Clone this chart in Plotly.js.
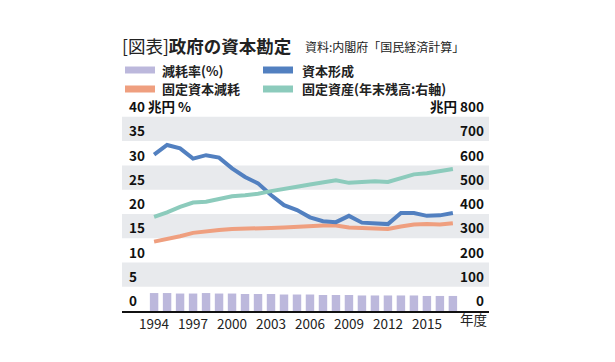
<!DOCTYPE html>
<html>
<head>
<meta charset="utf-8">
<script src="https://cdn.plot.ly/plotly-3.0.1.min.js"></script>
<style>html,body{margin:0;padding:0;background:#fff;}#chart{width:615px;height:362px;}</style>
</head>
<body>
<div id="chart"></div>
<script>
const years = [1994,1995,1996,1997,1998,1999,2000,2001,2002,2003,2004,2005,2006,2007,2008,2009,2010,2011,2012,2013,2014,2015,2016,2017];
const depreciationRate = [3.7,3.7,3.6,3.6,3.7,3.6,3.6,3.5,3.5,3.5,3.4,3.4,3.4,3.3,3.3,3.3,3.2,3.2,3.2,3.2,3.2,3.1,3.1,3.1];
const capitalFormation = [32.2,34.2,33.5,31.4,32.1,31.6,29.4,27.6,26.3,23.9,21.8,20.8,19.3,18.5,18.3,19.6,18.2,18.0,17.9,20.2,20.2,19.6,19.7,20.2];
const capitalConsumption = [14.3,14.8,15.4,16.1,16.5,16.7,16.9,16.9,16.9,17.1,17.2,17.4,17.4,17.6,17.6,17.2,17.1,17.1,16.9,17.4,17.8,17.9,17.8,18.1];
const fixedAssets = [388,406,429,447,450,461,473,477,483,494,505,512,521,532,539,528,532,535,532,546,563,568,575,585];
const xTickVals = [1994,1997,2000,2003,2006,2009,2012,2015];
const xTickText = ['1994','1997','2000','2003','2006','2009','2012','2015'];
const yLeftVals = [0,5,10,15,20,25,30,35,40];
const yLeftText = ['0','5','10','15','20','25','30','35','40'];
const yRightVals = [0,100,200,300,400,500,600,700,800];
const yRightText = ['0','100','200','300','400','500','600','700','800'];
const yLeftUnit = '兆円 %';
const yRightUnit = '兆円';
const xUnit = '年度';
const bandRanges = [[5,10],[15,20],[25,30],[35,40]];
const seriesNames = ['減耗率(%)','資本形成','固定資本減耗','固定資産(年末残高:右軸)'];

const colors = {rate:'#bcb8dc', formation:'#5280c0', consumption:'#ef9f7f', assets:'#8ccbbc', band:'#e8eaed'};
const JP = '"Noto Sans CJK JP", "Noto Sans", sans-serif';

// plot area: x 122..489, y 0 at 311, ~4.858 px per unit
const W = 615, H = 362, L = 122, R = 126, B = 51;
const yTop = 48;
const pxPerUnit = 4.858;
const T = Math.round(H - B - yTop * pxPerUnit);
const pw = W - L - R, ph = H - T - B;
const px = x => (x - L) / pw;
const py = y => (H - B - y) / ph;

const traces = [
  {type:'bar', x:years, y:depreciationRate, name:seriesNames[0], marker:{color:colors.rate}, yaxis:'y', showlegend:false},
  {type:'scatter', mode:'lines', x:years, y:capitalConsumption, name:seriesNames[2], line:{color:colors.consumption, width:4}, yaxis:'y', showlegend:false},
  {type:'scatter', mode:'lines', x:years, y:capitalFormation, name:seriesNames[1], line:{color:colors.formation, width:4}, yaxis:'y', showlegend:false},
  {type:'scatter', mode:'lines', x:years, y:fixedAssets, name:seriesNames[3], line:{color:colors.assets, width:4}, yaxis:'y2', showlegend:false}
];

const shapes = bandRanges.map(r => ({type:'rect', xref:'paper', yref:'y', x0:0, x1:1, y0:r[0], y1:r[1], fillcolor:colors.band, line:{width:0}, layer:'below'}));
const legendItems = [
  {c:colors.rate, sx:125, tx:160, y:70, t:seriesNames[0]},
  {c:colors.formation, sx:263, tx:300, y:70, t:seriesNames[1]},
  {c:colors.consumption, sx:125, tx:160, y:89, t:seriesNames[2]},
  {c:colors.assets, sx:263, tx:300, y:89, t:seriesNames[3]}
];
legendItems.forEach(it => {
  shapes.push({type:'rect', xref:'paper', yref:'paper', x0:px(it.sx), x1:px(it.sx+30), y0:py(it.y+3.5), y1:py(it.y-3.5), fillcolor:it.c, line:{width:0}});
});

const annotations = legendItems.map(it => ({
  xref:'paper', yref:'paper', x:px(it.tx), y:py(it.y), xanchor:'left', yanchor:'middle',
  text:it.t, showarrow:false, font:{family:JP, size:13, color:'#222', weight:'bold'}
}));
annotations.push({xref:'paper', yref:'paper', x:px(303), y:py(47), xanchor:'left', yanchor:'middle',
  text:'資料:内閣府「国民経済計算」', showarrow:false, font:{family:JP, size:12, color:'#222'}});
annotations.push({xref:'paper', yref:'paper', x:px(473), y:py(319), xanchor:'center', yanchor:'middle',
  text:xUnit, showarrow:false, font:{family:JP, size:13.5, color:'#222'}});
// axis unit labels next to the top tick labels
annotations.push({xref:'paper', yref:'y', x:px(146), y:40, yshift:11, xanchor:'left', yanchor:'middle',
  text:yLeftUnit, showarrow:false, font:{family:JP, size:13.5, color:'#111', weight:'bold'}});
annotations.push({xref:'paper', yref:'y', x:px(459), y:40, yshift:11, xanchor:'right', yanchor:'middle',
  text:yRightUnit, showarrow:false, font:{family:JP, size:13.5, color:'#111', weight:'bold'}});

const layout = {
  width:W, height:H,
  margin:{l:L, r:R, t:T, b:B, pad:0},
  paper_bgcolor:'#fff', plot_bgcolor:'rgba(0,0,0,0)',
  showlegend:false,
  bargap:0.35,
  title:{text:'[図表]<b>政府の資本勘定</b>', xref:'paper', x:px(122), xanchor:'left', yref:'container', y:1 - 47/H, yanchor:'middle',
    font:{family:JP, size:17.5, color:'#222'}},
  xaxis:{range:[1991.53, 2019.78], tickmode:'array', tickvals:xTickVals, ticktext:xTickText, showgrid:false, zeroline:false,
    showline:true, linecolor:'#111', linewidth:1.5, ticks:'', tickfont:{family:JP, size:13.5, color:'#222'}, fixedrange:true},
  yaxis:{range:[0,yTop], tickmode:'array', tickvals:yLeftVals, ticktext:yLeftText, showgrid:false, zeroline:false, showline:false,
    ticks:'', ticklabelposition:'inside top', ticklabelstandoff:4, tickfont:{family:JP, size:13.5, color:'#111', weight:'bold'}, fixedrange:true},
  yaxis2:{range:[0,yTop*20], overlaying:'y', side:'right', tickmode:'array', tickvals:yRightVals, ticktext:yRightText, showgrid:false, zeroline:false, showline:false,
    ticks:'', ticklabelposition:'inside top', ticklabelstandoff:2, tickfont:{family:JP, size:13.5, color:'#111', weight:'bold'}, fixedrange:true},
  shapes:shapes,
  annotations:annotations
};

Plotly.newPlot('chart', traces, layout, {staticPlot:true, displayModeBar:false});
</script>
</body>
</html>
